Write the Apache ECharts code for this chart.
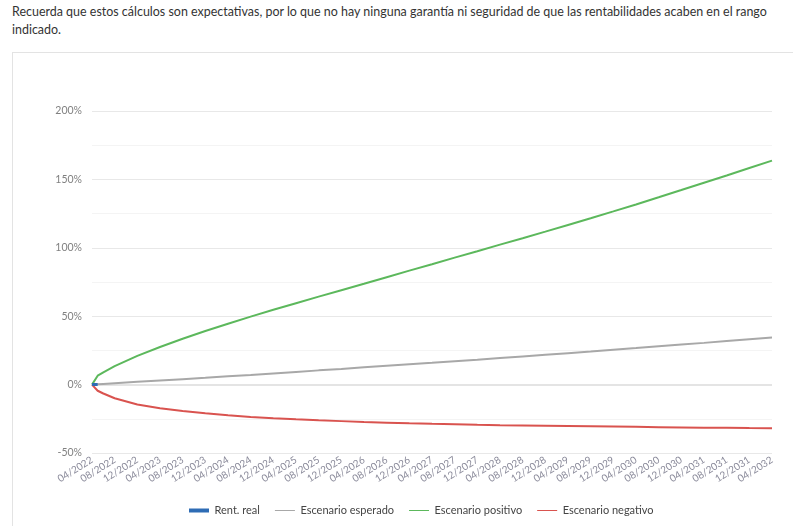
<!DOCTYPE html>
<html>
<head>
<meta charset="utf-8">
<script src="https://cdn.jsdelivr.net/npm/echarts@6/dist/echarts.min.js"></script>
<style>
  html, body { margin:0; padding:0; background:#fff; width:793px; height:526px; overflow:hidden; }
  #note { position:absolute; left:12px; top:2px; font-family: Lato, sans-serif; font-size:14px; line-height:18px; color:#333; white-space:nowrap; transform:scaleX(0.89); transform-origin:0 0; }
  #box { position:absolute; left:12px; top:52px; width:800px; height:500px; border:1px solid #e3e3e3; box-sizing:border-box; }
  #chart { position:absolute; left:0; top:0; width:793px; height:526px; }
</style>
</head>
<body>
<div id="note">Recuerda que estos cálculos son expectativas, por lo que no hay ninguna garantía ni seguridad de que las rentabilidades acaben en el rango<br>indicado.</div>
<div id="box"></div>
<div id="chart"></div>
<script>
// month offsets from 04/2022
const months = [0,1,2,4,8,12,16,20,24,28,32,36,40,44,48,52,56,60,64,68,72,76,80,84,88,92,96,100,104,108,112,116,120];
const esperado = [0,0.25,0.5,1.0,2.0,3.0,4.0,5.0,6.1,7.1,8.2,9.3,10.4,11.4,12.6,13.7,14.8,15.9,17.1,18.2,19.4,20.6,21.8,23.0,24.2,25.5,26.7,28.0,29.3,30.5,31.9,33.2,34.4];
const positivo = [0,6.5,9,13.5,21,27.5,33.5,39.2,44.5,49.7,54.7,59.5,64.3,69,73.7,78.5,83.3,88,92.8,97.5,102.3,107,111.8,116.7,121.6,126.6,131.7,136.9,142.2,147.6,152.9,158.3,163.7];
const negativo = [0,-4.5,-6.5,-10,-14.5,-17.3,-19.3,-21,-22.4,-23.6,-24.6,-25.4,-26.1,-26.7,-27.3,-27.8,-28.3,-28.7,-29.0,-29.4,-29.7,-29.9,-30.1,-30.3,-30.5,-30.7,-30.9,-31.1,-31.3,-31.5,-31.6,-31.8,-31.9];
const realMonths = [0,1];
const realValues = [0,0];
const tickLabels = ['04/2022','08/2022','12/2022','04/2023','08/2023','12/2023','04/2024','08/2024','12/2024','04/2025','08/2025','12/2025','04/2026','08/2026','12/2026','04/2027','08/2027','12/2027','04/2028','08/2028','12/2028','04/2029','08/2029','12/2029','04/2030','08/2030','12/2030','04/2031','08/2031','12/2031','04/2032'];
const seriesNames = ['Rent. real','Escenario esperado','Escenario positivo','Escenario negativo'];
const colors = ['#2e6cb5','#a8a8a8','#5cb85c','#d9534f'];

const pair = (xs, ys) => xs.map((m, i) => [m, ys[i]]);
const thin = 'path://M0,0L0.01,0L0,0.01Z M0,1.5H20V2.5H0Z M20,4L19.99,4L20,3.99Z';
const thick = 'path://M0,0H20V4H0Z';

const chart = echarts.init(document.getElementById('chart'));
chart.setOption({
  animation: false,
  textStyle: { fontFamily: 'Lato' },
  grid: { left: 92, right: 21, top: 111, bottom: 73 },
  xAxis: {
    type: 'value', min: 0, max: 120, interval: 4,
    axisLine: { show: false }, axisTick: { show: false }, splitLine: { show: false },
    axisLabel: { rotate: 32, color: '#8a8a9a', fontSize: 10, margin: 6,
      formatter: v => tickLabels[v / 4] || '' }
  },
  yAxis: {
    type: 'value', min: -50, max: 200, interval: 50,
    axisLine: { show: false }, axisTick: { show: false },
    axisLabel: { color: '#808080', fontSize: 10.5, margin: 10, formatter: '{value}%' },
    splitLine: { lineStyle: { color: '#e8e8e8', width: 1 } },
    minorTick: { show: false, splitNumber: 2 },
    minorSplitLine: { show: true, lineStyle: { color: '#f4f4f4', width: 1 } }
  },
  legend: {
    left: 184, top: 500, itemWidth: 21, itemHeight: 4, itemGap: 15,
    textStyle: { color: '#444', fontSize: 11, fontFamily: 'Lato' },
    data: [
      { name: seriesNames[0], icon: thick },
      { name: seriesNames[1], icon: thin },
      { name: seriesNames[2], icon: thin },
      { name: seriesNames[3], icon: thin }
    ]
  },
  series: [
    { name: seriesNames[1], type: 'line', data: pair(months, esperado), showSymbol: false, smooth: false,
      lineStyle: { color: colors[1], width: 2 }, itemStyle: { color: colors[1] },
      markLine: { silent: true, symbol: 'none', label: { show: false },
        lineStyle: { color: '#e4e4e4', width: 2, type: 'solid' }, data: [{ yAxis: 0 }], z: 1 } },
    { name: seriesNames[2], type: 'line', data: pair(months, positivo), showSymbol: false, smooth: false,
      lineStyle: { color: colors[2], width: 2 }, itemStyle: { color: colors[2] } },
    { name: seriesNames[3], type: 'line', data: pair(months, negativo), showSymbol: false, smooth: false,
      lineStyle: { color: colors[3], width: 2 }, itemStyle: { color: colors[3] } },
    { name: seriesNames[0], type: 'line', data: pair(realMonths, realValues), showSymbol: false,
      lineStyle: { color: colors[0], width: 3 }, itemStyle: { color: colors[0] } }
  ]
});
</script>
</body>
</html>
